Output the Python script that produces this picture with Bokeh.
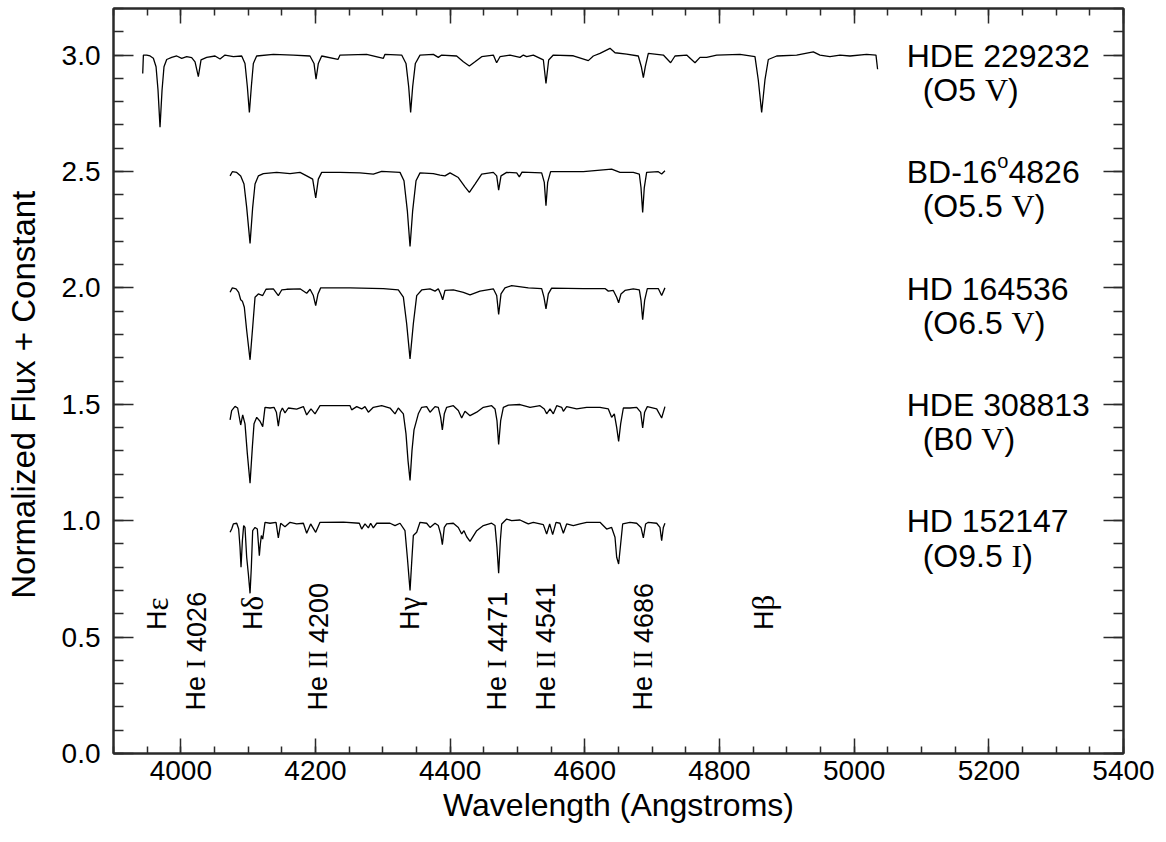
from bokeh.plotting import figure
from bokeh.models import LinearAxis, SingleIntervalTicker, Range1d, PrintfTickFormatter, CustomJSTickFormatter
from bokeh.embed import file_html
from bokeh.resources import INLINE
from bokeh.core.properties import value
import math

# ---------------- data (wavelength in Angstrom, normalized flux + constant) ----------------
hde229232 = [(3943.4, 2.921), (3944.4, 3.0), (3949.3, 3.0), (3954.3, 2.996), (3959.2, 2.986), (3963.2, 2.95),
             (3966.1, 2.85), (3969.1, 2.69), (3972.1, 2.85), (3975.0, 2.95), (3979.0, 2.981), (3986.4, 2.99),
             (3993.9, 2.996), (4001.3, 2.986), (4008.7, 2.993), (4016.1, 2.989), (4021.1, 2.971), (4026.0, 2.907),
             (4030.0, 2.979), (4038.4, 2.99), (4050.8, 2.996), (4058.2, 2.983), (4065.6, 3.0), (4078.0, 2.993),
             (4090.4, 2.996), (4095.3, 2.964), (4098.8, 2.864), (4101.8, 2.753), (4104.7, 2.864), (4107.7, 2.964),
             (4112.6, 2.996), (4137.4, 3.003), (4167.0, 3.0), (4191.8, 2.996), (4197.8, 2.964), (4200.8, 2.896),
             (4204.2, 2.964), (4209.2, 2.996), (4233.4, 2.981), (4236.4, 3.0), (4276.0, 3.003), (4300.8, 2.986),
             (4303.2, 3.003), (4328.0, 3.0), (4334.4, 2.964), (4338.4, 2.864), (4341.3, 2.754), (4344.3, 2.864),
             (4348.3, 2.964), (4355.2, 3.0), (4375.0, 3.003), (4382.4, 2.99), (4387.4, 3.0), (4409.6, 2.996),
             (4419.6, 2.971), (4428.5, 2.953), (4436.9, 2.971), (4446.8, 2.993), (4464.1, 3.0), (4469.0, 2.967),
             (4474.0, 2.993), (4488.9, 3.0), (4503.7, 2.99), (4508.7, 3.0), (4513.6, 2.993), (4523.5, 3.0),
             (4538.4, 2.979), (4542.3, 2.878), (4546.3, 2.979), (4553.2, 3.0), (4582.9, 2.997), (4605.2, 2.976),
             (4612.6, 2.996), (4622.5, 3.007), (4637.4, 3.029), (4644.8, 3.01), (4662.1, 3.004), (4679.4, 2.996),
             (4683.9, 2.95), (4686.9, 2.903), (4689.8, 2.95), (4694.3, 3.007), (4716.6, 3.0), (4727.4, 2.967),
             (4733.9, 2.996), (4751.2, 3.0), (4763.6, 2.967), (4771.0, 2.99), (4780.9, 2.99), (4795.8, 3.0),
             (4830.4, 3.003), (4852.7, 2.993), (4857.6, 2.893), (4862.6, 2.754), (4867.5, 2.893), (4872.5, 2.981),
             (4884.9, 2.996), (4914.6, 3.0), (4939.3, 3.014), (4949.2, 3.0), (4964.0, 2.993), (4979.0, 3.0),
             (4993.8, 2.996), (5018.5, 3.003), (5032.4, 3.0), (5034.8, 2.939)]

bd_16_4826 = [(4073.1, 2.481), (4076.5, 2.499), (4083.0, 2.496), (4088.9, 2.481), (4093.8, 2.446), (4097.8, 2.346),
              (4102.8, 2.191), (4106.7, 2.346), (4110.2, 2.446), (4115.1, 2.481), (4122.6, 2.491), (4142.4, 2.496),
              (4162.2, 2.491), (4177.0, 2.496), (4186.9, 2.481), (4195.8, 2.467), (4200.3, 2.386), (4204.2, 2.467),
              (4209.2, 2.496), (4236.4, 2.496), (4266.1, 2.494), (4285.9, 2.489), (4298.3, 2.5), (4325.5, 2.496),
              (4331.4, 2.46), (4336.4, 2.331), (4340.4, 2.178), (4344.3, 2.331), (4349.3, 2.46), (4355.2, 2.494),
              (4375.0, 2.491), (4384.9, 2.484), (4392.3, 2.481), (4399.8, 2.494), (4412.1, 2.474), (4422.0, 2.434),
              (4428.5, 2.41), (4436.9, 2.446), (4446.8, 2.489), (4464.1, 2.496), (4469.1, 2.481), (4472.0, 2.42),
              (4475.5, 2.481), (4483.9, 2.496), (4498.8, 2.494), (4502.7, 2.477), (4506.7, 2.497), (4535.9, 2.494),
              (4539.8, 2.453), (4542.3, 2.353), (4544.8, 2.453), (4549.2, 2.499), (4597.8, 2.499), (4639.8, 2.51),
              (4652.2, 2.496), (4672.0, 2.496), (4680.9, 2.489), (4683.4, 2.431), (4685.9, 2.324), (4688.3, 2.431),
              (4691.8, 2.496), (4709.1, 2.499), (4714.1, 2.489), (4719.0, 2.503)]

hd164536 = [(4073.1, 1.981), (4076.5, 2.0), (4082.0, 1.996), (4085.9, 1.981), (4088.9, 1.949), (4091.4, 1.943),
            (4094.3, 1.917), (4097.8, 1.817), (4102.8, 1.691), (4106.7, 1.831), (4110.2, 1.96), (4115.1, 1.974),
            (4121.6, 1.967), (4126.5, 1.994), (4137.4, 1.996), (4144.8, 1.967), (4149.8, 1.991), (4157.2, 1.994),
            (4177.0, 1.996), (4186.9, 1.977), (4191.9, 1.994), (4196.8, 1.967), (4200.3, 1.924), (4203.7, 1.974),
            (4207.7, 2.0), (4251.3, 2.0), (4300.8, 1.997), (4323.0, 1.991), (4330.5, 1.96), (4335.4, 1.846),
            (4340.4, 1.695), (4345.3, 1.846), (4350.3, 1.967), (4357.7, 1.991), (4370.1, 1.996), (4377.5, 1.986),
            (4382.4, 1.996), (4385.9, 1.974), (4388.9, 1.949), (4392.3, 1.989), (4404.7, 1.991), (4419.6, 1.981),
            (4429.5, 1.97), (4444.3, 1.986), (4464.1, 1.996), (4469.1, 1.967), (4472.0, 1.886), (4475.5, 1.974),
            (4481.4, 2.0), (4491.3, 2.01), (4516.1, 2.0), (4535.9, 1.997), (4539.3, 1.96), (4542.3, 1.91),
            (4545.8, 1.974), (4550.7, 1.999), (4597.8, 1.997), (4629.9, 1.997), (4634.9, 1.986), (4642.3, 1.989),
            (4647.3, 1.96), (4650.2, 1.936), (4653.7, 1.974), (4659.6, 1.989), (4672.0, 1.996), (4680.9, 1.991),
            (4683.4, 1.946), (4685.9, 1.863), (4688.8, 1.946), (4692.8, 1.997), (4709.1, 1.997), (4714.1, 1.967),
            (4719.0, 2.0)]

hde308813 = [(4073.1, 1.433), (4075.5, 1.473), (4080.5, 1.491), (4084.4, 1.484), (4088.9, 1.411), (4091.9, 1.454),
             (4095.3, 1.416), (4098.8, 1.287), (4102.8, 1.161), (4106.2, 1.316), (4108.7, 1.416), (4112.7, 1.444),
             (4117.6, 1.427), (4121.6, 1.404), (4125.0, 1.487), (4132.5, 1.484), (4138.4, 1.487), (4141.9, 1.466),
             (4144.8, 1.406), (4147.8, 1.466), (4150.8, 1.484), (4154.7, 1.463), (4159.7, 1.484), (4172.0, 1.479),
             (4182.0, 1.49), (4186.9, 1.454), (4193.3, 1.48), (4199.3, 1.459), (4206.7, 1.494), (4251.3, 1.494),
             (4253.7, 1.476), (4261.2, 1.49), (4268.6, 1.48), (4273.5, 1.49), (4278.5, 1.466), (4285.9, 1.487),
             (4298.3, 1.494), (4310.7, 1.484), (4318.1, 1.459), (4323.0, 1.484), (4330.5, 1.459), (4334.4, 1.373),
             (4337.4, 1.258), (4340.4, 1.173), (4343.3, 1.301), (4346.3, 1.39), (4352.7, 1.459), (4357.7, 1.487),
             (4365.1, 1.49), (4370.1, 1.466), (4377.5, 1.49), (4382.4, 1.487), (4385.9, 1.444), (4388.4, 1.39),
             (4391.3, 1.459), (4394.8, 1.487), (4404.7, 1.494), (4412.1, 1.473), (4417.1, 1.441), (4422.0, 1.47),
             (4429.5, 1.451), (4439.4, 1.466), (4449.3, 1.487), (4461.6, 1.494), (4466.6, 1.48), (4469.5, 1.43),
             (4472.0, 1.327), (4475.0, 1.43), (4479.0, 1.487), (4486.4, 1.496), (4503.7, 1.499), (4518.6, 1.487),
             (4533.4, 1.494), (4539.8, 1.48), (4543.3, 1.459), (4548.3, 1.48), (4553.2, 1.459), (4558.2, 1.494),
             (4565.6, 1.487), (4568.1, 1.47), (4573.0, 1.49), (4587.9, 1.48), (4602.7, 1.487), (4622.5, 1.487),
             (4634.9, 1.48), (4639.8, 1.444), (4643.8, 1.459), (4647.3, 1.401), (4650.2, 1.34), (4653.2, 1.416),
             (4657.2, 1.484), (4667.1, 1.484), (4677.0, 1.487), (4682.9, 1.466), (4685.9, 1.398), (4688.8, 1.466),
             (4692.8, 1.49), (4706.7, 1.48), (4714.1, 1.441), (4719.0, 1.49)]

hd152147 = [(4073.1, 0.95), (4075.5, 0.964), (4078.0, 0.986), (4083.0, 0.989), (4085.9, 0.964), (4087.9, 0.886),
            (4089.4, 0.8), (4091.4, 0.914), (4093.3, 0.979), (4095.3, 0.971), (4097.8, 0.843), (4100.3, 0.771),
            (4102.8, 0.688), (4104.7, 0.8), (4106.7, 0.957), (4110.2, 0.971), (4113.6, 0.964), (4115.1, 0.907),
            (4116.6, 0.85), (4118.1, 0.9), (4119.6, 0.936), (4121.6, 0.921), (4125.0, 0.993), (4132.5, 0.989),
            (4141.4, 0.993), (4144.8, 0.926), (4148.3, 0.989), (4154.7, 0.974), (4162.2, 0.993), (4172.0, 0.986),
            (4182.0, 0.989), (4186.9, 0.946), (4192.8, 0.986), (4200.3, 0.95), (4206.7, 0.993), (4241.4, 0.994),
            (4265.1, 0.989), (4268.6, 0.964), (4273.5, 0.986), (4278.5, 0.969), (4281.9, 0.989), (4285.9, 0.969),
            (4290.9, 0.989), (4310.7, 0.989), (4318.1, 0.979), (4325.5, 0.989), (4332.9, 0.957), (4336.4, 0.843),
            (4340.4, 0.7), (4343.3, 0.843), (4345.3, 0.936), (4350.3, 0.95), (4355.2, 0.993), (4365.1, 0.989),
            (4370.1, 0.971), (4377.5, 0.989), (4382.4, 0.979), (4385.9, 0.943), (4388.4, 0.897), (4391.3, 0.971),
            (4394.8, 0.986), (4404.7, 0.989), (4412.1, 0.971), (4417.1, 0.943), (4420.5, 0.957), (4424.5, 0.931),
            (4429.5, 0.911), (4439.4, 0.957), (4449.3, 0.979), (4461.6, 0.989), (4466.6, 0.979), (4469.5, 0.886),
            (4472.0, 0.774), (4474.5, 0.914), (4476.5, 0.986), (4483.9, 1.007), (4491.3, 1.0), (4503.7, 1.003),
            (4511.1, 0.993), (4516.1, 0.986), (4523.5, 0.993), (4538.4, 0.983), (4543.3, 0.943), (4547.8, 0.986),
            (4552.2, 0.94), (4557.2, 0.993), (4563.1, 0.989), (4568.1, 0.946), (4573.0, 0.986), (4582.9, 0.979),
            (4592.8, 0.986), (4602.7, 0.993), (4622.5, 0.993), (4632.4, 0.964), (4639.8, 0.971), (4644.8, 0.929),
            (4647.3, 0.843), (4650.2, 0.814), (4653.2, 0.9), (4656.2, 0.986), (4667.1, 0.993), (4677.0, 0.989),
            (4683.4, 0.971), (4686.9, 0.926), (4690.3, 0.986), (4694.3, 0.993), (4706.7, 0.989), (4711.6, 0.971),
            (4714.1, 0.914), (4716.6, 0.971), (4719.0, 0.989)]

spectra = [hde229232, bd_16_4826, hd164536, hde308813, hd152147]
star_names = ["HDE 229232", "BD-16°4826", "HD 164536", "HDE 308813", "HD 152147"]
star_types = ["O5 V", "O5.5 V", "O6.5 V", "B0 V", "O9.5 I"]
star_levels = [3.0, 2.5, 2.0, 1.5, 1.0]

line_labels = ["Hε", "He I 4026", "Hδ", "He II 4200", "Hγ", "He I 4471", "He II 4541", "He II 4686", "Hβ"]
line_label_wl = [3965, 4023, 4107, 4204, 4340, 4470, 4542, 4687, 4866]
line_label_base = [0.53, 0.185, 0.53, 0.185, 0.53, 0.185, 0.185, 0.185, 0.53]

x_ticks_interval = 200
y_ticks_interval = 0.5

# ---------------- figure ----------------
SANS = "Liberation Sans"
SERIF = "Liberation Serif"
INK = "#2a2a2a"

p = figure(width=1164, height=840, x_range=Range1d(3900, 5400), y_range=Range1d(0, 3.2),
           output_backend="svg", toolbar_location=None, x_axis_location=None, y_axis_location=None,
           min_border_left=113, min_border_right=41, min_border_top=8, min_border_bottom=87)
p.grid.visible = False
p.outline_line_color = INK
p.outline_line_width = 2
p.background_fill_color = "white"
p.border_fill_color = "white"


def style_axis(ax, tick_len, hidden=False):
    ax.axis_line_color = INK
    ax.axis_line_width = 2
    ax.major_tick_line_color = INK
    ax.minor_tick_line_color = INK
    ax.major_tick_line_width = 1.5
    ax.minor_tick_line_width = 1.5
    ax.major_tick_in = tick_len
    ax.major_tick_out = 0
    ax.minor_tick_in = tick_len // 2
    ax.minor_tick_out = 0
    ax.major_label_text_font = SANS
    ax.major_label_text_color = "black"
    ax.major_label_text_font_size = "28px"
    ax.axis_label_text_font = SANS
    ax.axis_label_text_font_size = "32px"
    ax.axis_label_text_font_style = "normal"
    ax.axis_label_text_color = "black"
    if hidden:
        ax.formatter = CustomJSTickFormatter(code="return ''")
        ax.major_label_text_font_size = "1px"
        ax.major_label_standoff = 0


xb = LinearAxis(ticker=SingleIntervalTicker(interval=x_ticks_interval, num_minor_ticks=4),
                axis_label="Wavelength (Angstroms)")
style_axis(xb, 15)
xb.major_label_standoff = 7
xb.axis_label_standoff = 4
p.add_layout(xb, "below")

xt = LinearAxis(ticker=SingleIntervalTicker(interval=x_ticks_interval, num_minor_ticks=4))
style_axis(xt, 15, hidden=True)
p.add_layout(xt, "above")

# trailing no-break spaces nudge the centred title slightly downwards, as in the original
yl = LinearAxis(ticker=SingleIntervalTicker(interval=y_ticks_interval, num_minor_ticks=5),
                axis_label="Normalized Flux + Constant\u00a0\u00a0\u00a0",
                formatter=PrintfTickFormatter(format="%.1f"))
style_axis(yl, 20)
yl.axis_label_text_font_size = "33px"
yl.major_label_standoff = 13
yl.axis_label_standoff = 17
p.add_layout(yl, "left")

yr = LinearAxis(ticker=SingleIntervalTicker(interval=y_ticks_interval, num_minor_ticks=5))
style_axis(yr, 20, hidden=True)
p.add_layout(yr, "right")

# spectra
for spec in spectra:
    p.line([w for w, f in spec], [f for w, f in spec], line_color="black", line_width=1.3)

# ---------------- text helpers ----------------
ADV = {SANS: {" ": .278, "(": .333, ")": .333, "-": .333, ".": .278, "B": .667, "D": .722,
              "E": .667, "H": .722, "O": .778, "e": .556, "o": .556},
       SERIF: {" ": .25, "I": .333, "V": .722}}
for d in "0123456789":
    ADV[SANS][d] = .556


def advance(s, font, size):
    return size * sum(ADV[font].get(c, .55) for c in s)


def draw_segments(x, y, segments, angle=0.0, baseline="alphabetic", start=0.0):
    off = start
    for text, font, size, rise in segments:
        body = text.lstrip(" ")
        off += advance(text[:len(text) - len(body)], font, size)
        if angle == 0.0:
            xo, yo = off, -rise
        else:
            xo, yo = 0, -off
        p.text(x=[x], y=[y], text=[body.rstrip(" ")], text_font=value(font), text_font_size=f"{size}px",
               text_align="left", text_baseline=baseline, angle=angle, x_offset=xo, y_offset=yo,
               text_color="black")
        off += advance(body, font, size)


STAR_FS = 32
STAR_X = 5078
for name, stype, lvl in zip(star_names, star_types, star_levels):
    if "°" in name:
        a, b = name.split("°")
        segs = [(a, SANS, STAR_FS, 0), ("o", SANS, 20, 11), (b, SANS, STAR_FS, 0)]
    else:
        segs = [(name, SANS, STAR_FS, 0)]
    draw_segments(STAR_X, lvl - 0.003, segs)
    cls, lum = stype.rsplit(" ", 1)
    segs2 = [("(" + cls + " ", SANS, STAR_FS, 0), (lum, SERIF, STAR_FS, 0), (")", SANS, STAR_FS, 0)]
    draw_segments(STAR_X, lvl - 0.15, segs2, start=16)

LINE_FS = 27
for lab, wl, base in zip(line_labels, line_label_wl, line_label_base):
    if lab.startswith("He "):
        _, ion, num = lab.split(" ")
        segs = [("He ", SANS, LINE_FS, 0), (ion, SERIF, LINE_FS, 0), (" " + num, SANS, LINE_FS, 0)]
    else:
        segs = [(lab[0], SANS, LINE_FS, 0), (lab[1:], SERIF, 31, 0)]
    draw_segments(wl, base, segs, angle=math.pi / 2, baseline="middle")

open("out.html", "w").write(file_html(p, INLINE))
